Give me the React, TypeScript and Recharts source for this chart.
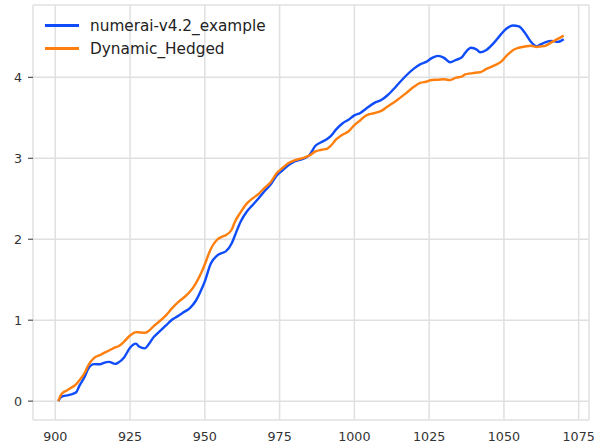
import { LineChart, Line, XAxis, YAxis, CartesianGrid } from 'recharts'

const days = [
  901, 902, 904, 905, 907, 908, 910, 911, 913, 915, 916, 918, 920, 921, 923, 925, 927, 928, 930, 931,
  933, 934, 937, 939, 941, 943, 945, 947, 949, 950, 952, 954, 956, 957, 959, 960, 962, 964, 966, 968,
  970, 972, 974, 976, 978, 980, 983, 985, 987, 989, 991, 992, 994, 996, 998, 1000, 1002, 1004, 1007, 1009,
  1011, 1014, 1017, 1020, 1022, 1024, 1026, 1028, 1030, 1032, 1034, 1036, 1037, 1039, 1041, 1042, 1044, 1047, 1049, 1051,
  1053, 1055, 1057, 1059, 1061, 1062, 1064, 1066, 1068, 1070,
]

const numerai = [
  0, 0.053, 0.072, 0.08, 0.11, 0.185, 0.315, 0.4, 0.457, 0.455, 0.47, 0.485, 0.46, 0.475, 0.54, 0.66, 0.71, 0.675, 0.652, 0.69,
  0.795, 0.83, 0.935, 1.005, 1.05, 1.1, 1.15, 1.24, 1.39, 1.48, 1.7, 1.795, 1.833, 1.85, 1.95, 2.04, 2.22, 2.34, 2.423, 2.505,
  2.595, 2.675, 2.785, 2.851, 2.915, 2.96, 2.995, 3.04, 3.155, 3.2, 3.24, 3.27, 3.36, 3.43, 3.475, 3.53, 3.56, 3.615, 3.69, 3.72,
  3.775, 3.89, 4.01, 4.11, 4.16, 4.19, 4.24, 4.265, 4.24, 4.185, 4.215, 4.25, 4.3, 4.365, 4.34, 4.31, 4.335, 4.44, 4.53, 4.605,
  4.64, 4.63, 4.55, 4.44, 4.38, 4.4, 4.435, 4.45, 4.437, 4.47,
]

const hedged = [
  0, 0.083, 0.135, 0.158, 0.21, 0.255, 0.36, 0.44, 0.535, 0.57, 0.59, 0.625, 0.665, 0.675, 0.735, 0.81, 0.853, 0.85, 0.845, 0.86,
  0.93, 0.96, 1.06, 1.145, 1.22, 1.28, 1.35, 1.455, 1.6, 1.69, 1.88, 1.99, 2.035, 2.05, 2.12, 2.21, 2.335, 2.44, 2.505, 2.56,
  2.635, 2.705, 2.815, 2.88, 2.94, 2.975, 3.005, 3.035, 3.085, 3.105, 3.12, 3.15, 3.235, 3.29, 3.33, 3.41, 3.47, 3.53, 3.56, 3.585,
  3.635, 3.71, 3.795, 3.885, 3.93, 3.945, 3.967, 3.97, 3.975, 3.965, 3.995, 4.01, 4.035, 4.048, 4.06, 4.063, 4.1, 4.15, 4.19, 4.27,
  4.335, 4.365, 4.38, 4.39, 4.375, 4.38, 4.392, 4.435, 4.474, 4.515,
]

const xTicks = [900, 925, 950, 975, 1000, 1025, 1050, 1075]
const yTicks = [0, 1, 2, 3, 4]

const BLUE = '#0f4cfa'
const ORANGE = '#ff7f0e'
const FONT = '"DejaVu Sans", sans-serif'

const data = days.map((d, i) => ({ day: d, numerai: numerai[i], hedged: hedged[i] }))

const legendItems = [
  { label: 'numerai-v4.2_example', color: BLUE },
  { label: 'Dynamic_Hedged', color: ORANGE },
]

export default function App() {
  const tickStyle = { fontSize: 12.7, fill: '#333', fontFamily: FONT }
  return (
    <div style={{ position: 'absolute', left: 0, top: 0, width: 594, height: 446, background: '#fff' }}>
      <LineChart width={594} height={446} data={data} margin={{ top: 5, right: 5, left: 0, bottom: 0 }}>
        <CartesianGrid stroke="#e0e0e0" strokeWidth={1.5} />
        <XAxis
          dataKey="day"
          type="number"
          domain={[892.55, 1078.45]}
          ticks={xTicks}
          allowDataOverflow
          axisLine={false}
          tickLine={false}
          tickSize={0}
          tickMargin={12}
          height={26}
          tick={tickStyle}
          interval={0}
        />
        <YAxis
          type="number"
          domain={[-0.233, 4.893]}
          ticks={yTicks}
          allowDataOverflow
          axisLine={false}
          tickLine={{ stroke: '#333', strokeWidth: 1 }}
          tickSize={5}
          tickMargin={6}
          width={33}
          tick={tickStyle}
          interval={0}
        />
        <Line
          type="monotone"
          dataKey="numerai"
          stroke={BLUE}
          strokeWidth={2.4}
          dot={false}
          isAnimationActive={false}
        />
        <Line
          type="monotone"
          dataKey="hedged"
          stroke={ORANGE}
          strokeWidth={2.4}
          dot={false}
          isAnimationActive={false}
        />
      </LineChart>
      <div style={{ position: 'absolute', left: 45, top: 14, fontFamily: FONT, fontSize: 15.3, color: '#222' }}>
        {legendItems.map(item => (
          <div key={item.label} style={{ display: 'flex', alignItems: 'center', height: 23 }}>
            <span style={{ display: 'inline-block', width: 34, height: 2.5, background: item.color, marginRight: 11 }} />
            <span>{item.label}</span>
          </div>
        ))}
      </div>
    </div>
  )
}
